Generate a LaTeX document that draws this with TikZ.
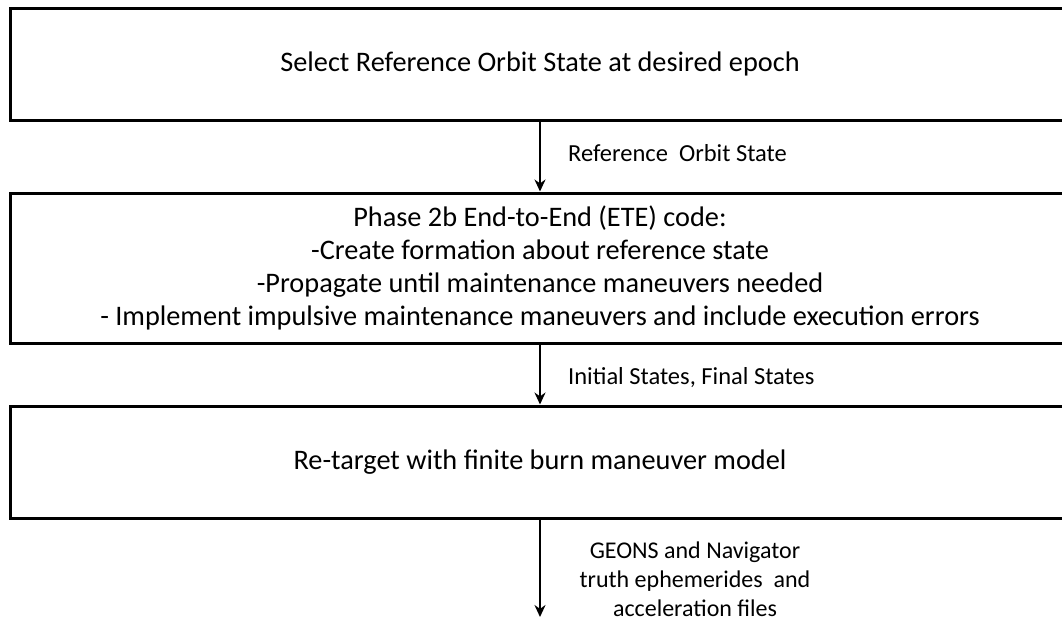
\documentclass[tikz,border=0pt]{standalone}
\usepackage{fontspec}
\setmainfont{Carlito}
\usetikzlibrary{arrows.meta}
\tikzset{
  flowbox/.style={draw, line width=3pt, rectangle, minimum width=1060pt, align=center, inner sep=0pt, font=\fontsize{28.3}{33}\selectfont},
  flowarrow/.style={line width=2pt, -{Stealth[length=12pt,width=11pt]}},
  flowlabel/.style={font=\fontsize{24.5}{30}\selectfont, inner sep=0pt, align=center}
}
\begin{document}
\begin{tikzpicture}[x=1pt,y=1pt]
\useasboundingbox (0,0) rectangle (1062,-622);
\node[flowbox, minimum height=112pt] (b1) at (540,-64) {Select Reference Orbit State at desired epoch};
\node[flowbox, minimum height=150pt] (b2) at (540,-268) {Phase 2b End-to-End (ETE) code:\\-Create formation about reference state\\-Propagate until maintenance maneuvers needed\\- Implement impulsive maintenance maneuvers and include execution errors};
\node[flowbox, minimum height=112pt] (b3) at (540,-462) {Re-target with finite burn maneuver model};
\coordinate (end) at (540,-617);
\draw[flowarrow] (b1.south) -- (b2.north);
\draw[flowarrow] (b2.south) -- (b3.north);
\draw[flowarrow] (b3.south) -- (end);
\node[flowlabel, anchor=west] (l1) at (568,-153) {Reference\ \ Orbit State};
\node[flowlabel, anchor=west] (l2) at (568,-378) {Initial States, Final States};
\node[flowlabel, font=\fontsize{24}{29}\selectfont] (l3) at (695,-579) {GEONS and Navigator\\truth ephemerides\ \ and\\acceleration files};
\end{tikzpicture}
\end{document}
